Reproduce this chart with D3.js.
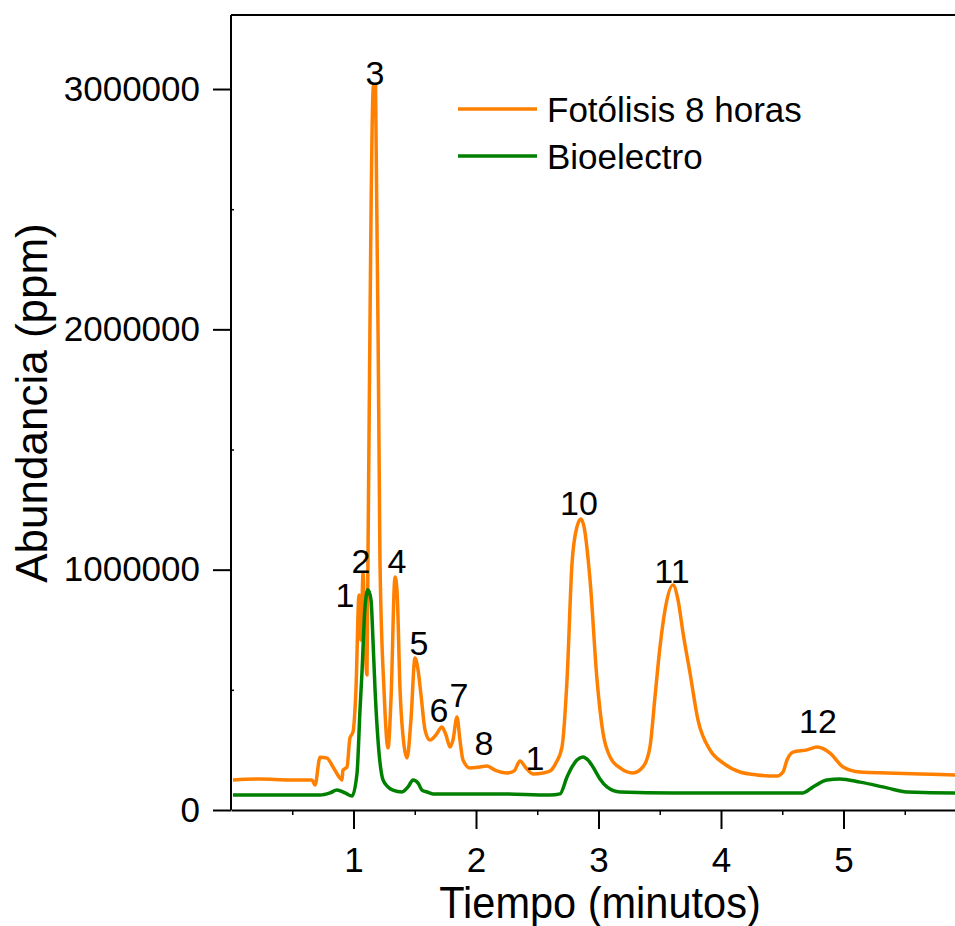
<!DOCTYPE html>
<html lang="es">
<head>
    <meta charset="UTF-8">
    <title>Abundancia vs Tiempo</title>
    <script src="https://cdn.jsdelivr.net/npm/d3@7/dist/d3.min.js"></script>
    <style>
        body { margin: 0; background: #fff; }
        text { font-family: "Liberation Sans", Arial, sans-serif; fill: #000; }
    </style>
</head>
<body>
<script>
    // series: Fotólisis 8 horas (time in minutes, abundance in ppm)
    const fotoTime = [0.016, 0.237, 0.482, 0.661, 0.686, 0.727, 0.784, 0.833, 0.890, 0.906,
        0.914, 0.947, 0.971, 0.996, 1.020, 1.045, 1.061, 1.078, 1.094, 1.110,
        1.118, 1.163, 1.180, 1.216, 1.249, 1.282, 1.306, 1.339, 1.355, 1.380,
        1.412, 1.437, 1.469, 1.502, 1.527, 1.551, 1.584, 1.624, 1.673, 1.722,
        1.755, 1.788, 1.812, 1.845, 1.869, 1.894, 1.951, 2.033, 2.090, 2.155,
        2.253, 2.310, 2.359, 2.408, 2.465, 2.547, 2.604, 2.653, 2.702, 2.743,
        2.784, 2.824, 2.857, 2.882, 2.931, 2.988, 3.037, 3.094, 3.176, 3.282,
        3.363, 3.420, 3.461, 3.502, 3.543, 3.608, 3.649, 3.690, 3.747, 3.812,
        3.910, 4.016, 4.155, 4.294, 4.457, 4.506, 4.539, 4.588, 4.702, 4.784,
        4.890, 4.996, 5.135, 5.355, 5.624, 5.910, 6.0];
    const fotoValue = [125000, 129000, 125000, 125000, 104000, 220000, 216000, 179000, 133000, 125000,
        166000, 179000, 300000, 325000, 500000, 895000, 707000, 986000, 707000, 562000,
        1040000, 3013000, 3013000, 1040000, 500000, 258000, 458000, 970000, 915000, 500000,
        270000, 216000, 375000, 632000, 583000, 479000, 333000, 291000, 312000, 345000,
        312000, 262000, 291000, 387000, 291000, 208000, 175000, 179000, 183000, 166000,
        154000, 162000, 204000, 175000, 150000, 154000, 162000, 196000, 262000, 541000,
        1028000, 1178000, 1211000, 1178000, 957000, 541000, 320000, 221000, 175000, 154000,
        179000, 262000, 470000, 678000, 832000, 936000, 874000, 737000, 570000, 375000,
        250000, 196000, 158000, 146000, 141000, 158000, 208000, 241000, 250000, 262000,
        237000, 179000, 158000, 154000, 150000, 146000, 145000];

    // series: Bioelectro
    const bioTime = [0.016, 0.727, 0.808, 0.865, 0.931, 0.988, 1.029, 1.053, 1.069, 1.094,
        1.118, 1.143, 1.159, 1.176, 1.200, 1.241, 1.282, 1.322, 1.396, 1.445,
        1.486, 1.527, 1.559, 1.600, 1.649, 1.788, 2.196, 2.604, 2.686, 2.743,
        2.784, 2.824, 2.873, 2.914, 2.955, 3.012, 3.069, 3.176, 3.608, 4.237,
        4.669, 4.751, 4.865, 4.971, 5.135, 5.355, 5.518, 5.910, 6.0];
    const bioValue = [62000, 62000, 71000, 83000, 71000, 58000, 154000, 416000, 570000, 845000,
        916000, 874000, 707000, 500000, 291000, 125000, 96000, 83000, 75000, 96000,
        125000, 112000, 83000, 75000, 67000, 67000, 67000, 62000, 67000, 137000,
        179000, 208000, 221000, 208000, 179000, 129000, 96000, 75000, 71000, 71000,
        71000, 96000, 125000, 129000, 116000, 92000, 75000, 71000, 71000];

    // peak labels
    const peakNames = ["1", "2", "3", "4", "5", "6", "7", "8", "1", "10", "11", "12"];
    const peakTime = [0.931, 1.061, 1.176, 1.355, 1.535, 1.698, 1.861, 2.065, 2.482, 2.841, 3.600, 4.792];
    const peakValue = [845000, 986000, 3017000, 986000, 645000, 366000, 429000, 229000, 166000, 1228000, 945000, 320000];

    const seriesNames = ["Fotólisis 8 horas", "Bioelectro"];
    const seriesColors = ["#ff8000", "#008000"];
    const xTicks = [1, 2, 3, 4, 5];
    const yTicks = [0, 1000000, 2000000, 3000000];

    const width = 955, height = 926;
    const plotLeft = 231, plotTop = 15, plotBottom = 810, plotRight = 966;

    const svg = d3.select("body").append("svg")
        .attr("width", width)
        .attr("height", height);

    const x = d3.scaleLinear().domain([0, 6]).range([plotLeft, plotRight]);
    const y = d3.scaleLinear().domain([0, 3308000]).range([plotBottom, plotTop]);

    svg.append("clipPath").attr("id", "plot")
        .append("rect")
        .attr("x", plotLeft).attr("y", plotTop)
        .attr("width", plotRight - plotLeft).attr("height", plotBottom - plotTop);

    // lines
    const line = d3.line()
        .curve(d3.curveMonotoneX)
        .x(d => x(d[0]))
        .y(d => y(d[1]));

    const series = [
        d3.zip(fotoTime, fotoValue),
        d3.zip(bioTime, bioValue)
    ];

    svg.append("g").attr("clip-path", "url(#plot)")
        .selectAll("path")
        .data(series)
        .enter().append("path")
        .attr("d", line)
        .attr("fill", "none")
        .attr("stroke", (d, i) => seriesColors[i])
        .attr("stroke-width", 3.5)
        .attr("stroke-linejoin", "round");

    // minor ticks
    svg.append("g")
        .attr("transform", `translate(0,${plotBottom})`)
        .call(d3.axisBottom(x).tickValues(d3.range(0.5, 6, 1)).tickSize(5).tickSizeOuter(0).tickFormat(""))
        .call(g => g.select(".domain").remove())
        .selectAll("line").attr("stroke-width", 1.5);

    svg.append("g")
        .attr("transform", `translate(${plotLeft},0)`)
        .call(d3.axisRight(y).tickValues([500000, 1500000, 2500000]).tickSize(3).tickSizeOuter(0).tickFormat(""))
        .call(g => g.select(".domain").remove())
        .selectAll("line").attr("stroke-width", 1.5);

    // x axis
    const xAxis = svg.append("g")
        .attr("transform", `translate(0,${plotBottom})`)
        .call(d3.axisBottom(x).tickValues(xTicks).tickSize(19).tickSizeOuter(0).tickPadding(18).tickFormat(d3.format("d")));
    xAxis.selectAll("text").attr("font-size", 35);
    xAxis.selectAll("line, path").attr("stroke-width", 2);

    // y axis
    const yAxis = svg.append("g")
        .attr("transform", `translate(${plotLeft},0)`)
        .call(d3.axisLeft(y).tickValues(yTicks).tickSize(18).tickSizeOuter(0).tickPadding(13).tickFormat(d3.format("d")));
    yAxis.selectAll("text").attr("font-size", 35);
    yAxis.selectAll("line").attr("stroke-width", 2);
    yAxis.select(".domain").attr("d", `M0,${plotBottom}V${plotTop}`).attr("stroke-width", 2);
    svg.selectAll(".tick text").attr("font-family", "Liberation Sans, Arial, sans-serif");

    // top frame line
    svg.append("line")
        .attr("x1", plotLeft).attr("x2", plotRight)
        .attr("y1", plotTop).attr("y2", plotTop)
        .attr("stroke", "#000").attr("stroke-width", 2);

    // axis titles
    svg.append("text")
        .attr("transform", "translate(600,918) scale(0.944,1)")
        .attr("text-anchor", "middle")
        .attr("font-size", 44)
        .text("Tiempo (minutos)");

    svg.append("text")
        .attr("transform", "translate(47,403) rotate(-90)")
        .attr("text-anchor", "middle")
        .attr("font-size", 44)
        .text("Abundancia (ppm)");

    // peak labels
    svg.append("g")
        .selectAll("text")
        .data(peakNames)
        .enter().append("text")
        .attr("x", (d, i) => x(peakTime[i]))
        .attr("y", (d, i) => y(peakValue[i]))
        .attr("text-anchor", "middle")
        .attr("font-size", 34)
        .text(d => d);

    // legend
    const legend = svg.append("g");
    const legendY = [109, 156];
    seriesNames.forEach((name, i) => {
        legend.append("line")
            .attr("x1", 458).attr("x2", 537)
            .attr("y1", legendY[i]).attr("y2", legendY[i])
            .attr("stroke", seriesColors[i])
            .attr("stroke-width", 3.5);
        legend.append("text")
            .attr("x", 547)
            .attr("y", legendY[i] + 13)
            .attr("font-size", 35)
            .text(name);
    });
</script>
</body>
</html>
